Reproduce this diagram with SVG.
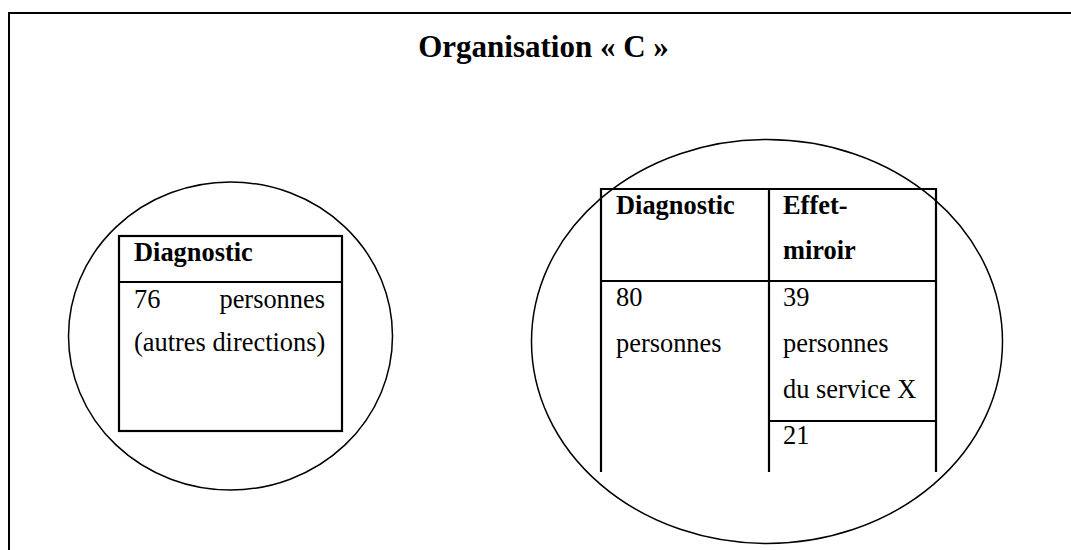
<svg xmlns="http://www.w3.org/2000/svg" width="1071" height="550" viewBox="0 0 1071 550">
<style>
text{font-family:"Liberation Serif","Times New Roman",serif;fill:#000}
.t{font-size:26.4px}
.b{font-weight:bold}
.title{font-size:31px;font-weight:bold}
.circ{fill:none;stroke:#000;stroke-width:1.5}
.tb{fill:none;stroke:#000;stroke-width:2.2}
</style>
<rect width="1071" height="550" fill="#fff"/>
<g id="frame">
<path d="M9,560 V13 H1080" fill="none" stroke="#000" stroke-width="2"/>
</g>
<g id="title"><text class="title" x="543.5" y="57" text-anchor="middle">Organisation « C »</text></g>
<g id="connectors"></g>
<g id="left-node">
<ellipse class="circ" cx="230.5" cy="336" rx="162" ry="154"/>
<rect class="tb" x="119" y="236" width="223" height="195"/>
<line class="tb" x1="119" y1="282" x2="342" y2="282"/>
<text class="t b" x="134" y="261">Diagnostic</text>
<text class="t" x="134" y="308">76</text>
<text class="t" x="325" y="308" text-anchor="end">personnes</text>
<text class="t" x="134" y="351">(autres directions)</text>
</g>
<g id="right-node">
<ellipse class="circ" cx="767" cy="341.5" rx="235.5" ry="202"/>
<path class="tb" d="M601,472 V189 H936 V472 M769,189 V472 M601,281 H936 M769,421 H936"/>
<text class="t b" x="616" y="214">Diagnostic</text>
<text class="t b" x="783" y="214">Effet-</text>
<text class="t b" x="783" y="259">miroir</text>
<text class="t" x="616" y="306">80</text>
<text class="t" x="616" y="352">personnes</text>
<text class="t" x="783" y="306">39</text>
<text class="t" x="783" y="352">personnes</text>
<text class="t" x="783" y="398">du service X</text>
<text class="t" x="783" y="444">21</text>
</g>
</svg>
